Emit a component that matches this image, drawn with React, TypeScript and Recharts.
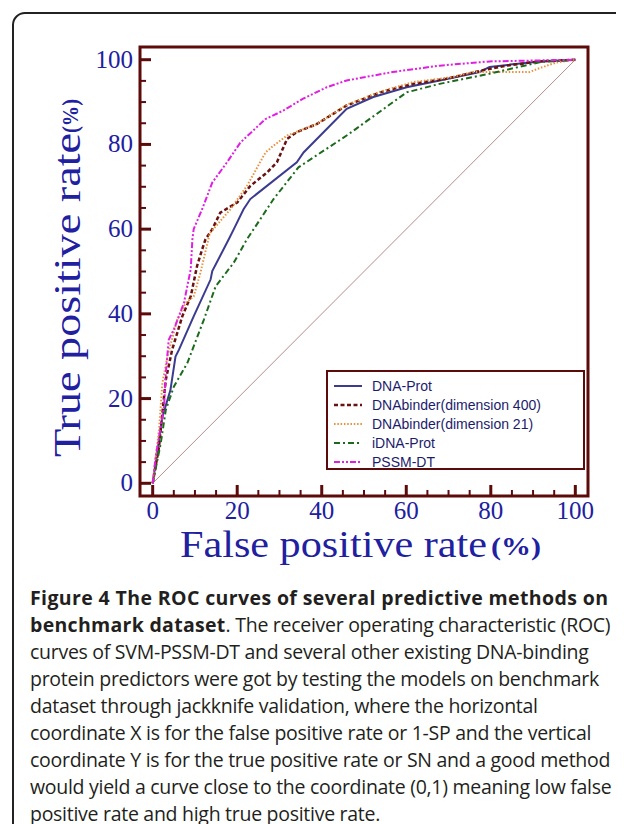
import { LineChart, Line, XAxis, YAxis, ReferenceArea, ReferenceLine, Label } from 'recharts'

// ROC points (FPR %, TPR %)
const dnaProtFpr = [0, 2.3, 4.2, 5.4, 6.2, 9.7, 13.7, 14.1, 18, 19.2, 21.5, 23.1, 34.1, 35.7, 45.9, 52.2, 60.1, 67.9, 77.4, 79.7, 91.5, 100]
const dnaProtTpr = [0, 15.7, 22, 29.9, 31.5, 39.4, 48.1, 50.1, 57.6, 60, 64.7, 67.1, 75.8, 78.1, 88.4, 91.2, 93.5, 95.1, 97.1, 98.3, 99.6, 100]

const binder400Fpr = [0, 1.5, 2.3, 3.1, 4.6, 7, 9, 10.5, 11.7, 12.5, 14.1, 16, 20, 23.1, 27.1, 29.4, 31.8, 34.1, 38.8, 45.9, 53.8, 61.6, 69.5, 78.1, 83.7, 91.5, 100]
const binder400Tpr = [0, 8.6, 16.6, 24.4, 31.5, 39.4, 44.1, 51.3, 55.2, 57.6, 60, 63.9, 66.3, 70.2, 73.4, 75.8, 81.3, 82.9, 84.8, 89.2, 92.3, 94.3, 95.5, 97.5, 98.6, 99.6, 100]

const binder21Fpr = [0, 1.5, 2.3, 3.5, 5.8, 7.8, 9.7, 11.3, 13.5, 18.4, 22.3, 26.7, 28.6, 31.8, 38.8, 46, 54, 61.6, 71, 75.7, 83.7, 89.2, 91.5, 95.4, 100]
const binder21Tpr = [0, 12.6, 23.7, 30, 38.6, 42.6, 44.1, 49.7, 59, 64.7, 70.2, 78.1, 79.7, 82.1, 84.8, 89.4, 92.5, 94.7, 95.9, 97.1, 97.1, 97.1, 98, 99.3, 100]

const iDnaProtFpr = [0, 1.9, 3.1, 5, 8.2, 12.1, 14.9, 19.2, 22.3, 23.9, 28.6, 34.5, 45.9, 60.1, 67.9, 79.7, 91.5, 100]
const iDnaProtTpr = [0, 9.4, 17.3, 22.8, 28.4, 38.6, 46.5, 52.1, 57.6, 60, 67.1, 74.6, 82.1, 92.3, 94.3, 96.7, 99.4, 100]

const pssmDtFpr = [0, 0.7, 2.7, 3.1, 3.8, 5, 7.4, 9, 9.4, 9.7, 11.7, 14.1, 17.6, 20.8, 26.7, 30.9, 35.6, 41.2, 45.9, 56.8, 67.9, 79.7, 100]
const pssmDtTpr = [0, 6.2, 18.1, 26, 33.9, 36.3, 42.6, 50.5, 57.6, 60, 64.7, 71, 75.8, 80.5, 86, 88, 90.8, 93.5, 95.1, 97.1, 98.6, 99.6, 100]

const tickValues = [0, 5, 10, 15, 20, 25, 30, 35, 40, 45, 50, 55, 60, 65, 70, 75, 80, 85, 90, 95, 100]

const toPoints = (xs: number[], ys: number[]) => xs.map((x, i) => ({ x, y: ys[i] }))

const series = [
  { name: 'DNA-Prot', data: toPoints(dnaProtFpr, dnaProtTpr), color: '#3b3b8f', dash: undefined, width: 2 },
  { name: 'DNAbinder(dimension 400)', data: toPoints(binder400Fpr, binder400Tpr), color: '#6a1212', dash: '4 2.5', width: 2.5 },
  { name: 'DNAbinder(dimension 21)', data: toPoints(binder21Fpr, binder21Tpr), color: '#e8903a', dash: '1.5 1.8', width: 2 },
  { name: 'iDNA-Prot', data: toPoints(iDnaProtFpr, iDnaProtTpr), color: '#1c6a1c', dash: '6 3 2 3', width: 2 },
  { name: 'PSSM-DT', data: toPoints(pssmDtFpr, pssmDtTpr), color: '#e020e0', dash: '6 2 2 2 2 2', width: 2 },
]

const axisColor = '#5c0a0a'
const labelColor = '#2020a0'
const serif = '"Liberation Serif", "Times New Roman", serif'

const XTick = (props: any) => {
  const { x, y, payload } = props
  const major = payload.value % 20 === 0
  return (
    <g>
      <line x1={x} x2={x} y1={y} y2={y - (major ? 11 : 6)} stroke={axisColor} strokeWidth={major ? 3 : 2} />
      {major && (
        <text x={x} y={y + 23} textAnchor="middle" fontFamily={serif} fontSize={25} fill={labelColor}>
          {payload.value}
        </text>
      )}
    </g>
  )
}

const YTick = (props: any) => {
  const { x, y, payload } = props
  const major = payload.value % 20 === 0
  return (
    <g>
      <line x1={x} x2={x + (major ? 11 : 6)} y1={y} y2={y} stroke={axisColor} strokeWidth={major ? 3 : 2} />
      {major && (
        <text x={x - 7} y={y + 8} textAnchor="end" fontFamily={serif} fontSize={25} fill={labelColor}>
          {payload.value}
        </text>
      )}
    </g>
  )
}

const LegendBox = () => (
  <div
    style={{
      position: 'absolute',
      left: 318,
      top: 362,
      width: 259,
      height: 100,
      border: `2px solid ${axisColor}`,
      background: '#fff',
      padding: '4px 0',
      fontFamily: '"Liberation Sans", Arial, sans-serif',
      fontSize: 14,
      color: '#1c1c6c',
      boxSizing: 'border-box',
    }}
  >
    {series.map((s) => (
      <div key={s.name} style={{ display: 'flex', alignItems: 'center', height: 19 }}>
        <svg width={40} height={10} style={{ marginLeft: 4 }}>
          <line x1={2} x2={30} y1={5} y2={5} stroke={s.color} strokeWidth={s.width} strokeDasharray={s.dash} />
        </svg>
        <span>{s.name}</span>
      </div>
    ))}
  </div>
)

const App = () => {
  return (
    <div style={{ position: 'relative', width: 616, height: 816, overflow: 'hidden' }}>
      <div
        style={{
          position: 'absolute',
          left: 4,
          top: 4,
          width: 700,
          height: 900,
          border: '2px solid #222',
          borderTopLeftRadius: 13,
          boxSizing: 'border-box',
        }}
      />
      <div style={{ position: 'absolute', left: 0, top: 0 }}>
        <LineChart width={600} height={570} margin={{ top: 39, right: 20, left: 0, bottom: 0 }}>
          <XAxis
            type="number"
            dataKey="x"
            domain={[-3, 103]}
            allowDataOverflow
            ticks={tickValues}
            interval={0}
            axisLine={false}
            tickLine={false}
            tickSize={0}
            tickMargin={0}
            tick={<XTick />}
            height={82}
          >
            <Label
              content={(p: any) => {
                const vb = p.viewBox
                const by = vb.y + 61
                return (
                  <g fontFamily={serif} fill={labelColor}>
                    <text x={172} y={by} fontSize={38} textLength={307} lengthAdjust="spacingAndGlyphs">
                      False positive rate
                    </text>
                    <text x={483} y={by - 2} fontSize={25} fontWeight="bold" textLength={50} lengthAdjust="spacingAndGlyphs">
                      (%)
                    </text>
                  </g>
                )
              }}
            />
          </XAxis>
          <YAxis
            type="number"
            dataKey="y"
            domain={[-3, 103]}
            allowDataOverflow
            ticks={tickValues}
            interval={0}
            axisLine={false}
            tickLine={false}
            tickSize={0}
            tickMargin={0}
            tick={<YTick />}
            width={132}
          >
            <Label
              content={() => (
                <g fontFamily={serif} fill={labelColor} transform="rotate(-90, 72, 449)">
                  <text x={72} y={449} fontSize={38} textLength={324} lengthAdjust="spacingAndGlyphs">
                    True positive rate
                  </text>
                  <text x={72 + 324} y={447} fontSize={24} fontWeight="bold" textLength={34} lengthAdjust="spacingAndGlyphs">
                    (%)
                  </text>
                </g>
              )}
            />
          </YAxis>
          <ReferenceArea
            x1={-3}
            x2={103}
            y1={-3}
            y2={103}
            fill="#fff"
            fillOpacity={0}
            stroke={axisColor}
            strokeWidth={3}
            ifOverflow="visible"
          />
          <ReferenceLine
            segment={[
              { x: 0, y: 0 },
              { x: 100, y: 100 },
            ]}
            stroke="#b88c8c"
            strokeWidth={1}
          />
          {series.map((s) => (
            <Line
              key={s.name}
              data={s.data}
              dataKey="y"
              name={s.name}
              type="linear"
              stroke={s.color}
              strokeWidth={s.width}
              strokeDasharray={s.dash}
              dot={false}
              activeDot={false}
              isAnimationActive={false}
            />
          ))}
        </LineChart>
        <LegendBox />
      </div>
      <div
        style={{
          position: 'absolute',
          left: 22,
          top: 576,
          fontFamily: '"Open Sans", sans-serif',
          fontSize: 19.5,
          lineHeight: '27px',
          color: '#231f20',
          whiteSpace: 'nowrap',
          letterSpacing: -0.28,
        }}
      >
        <b style={{ letterSpacing: 0.38 }}>Figure 4 The ROC curves of several predictive methods on</b>
        <br />
        <b style={{ letterSpacing: 0.3 }}>benchmark dataset</b>. The receiver operating characteristic (ROC)
        <br />
        curves of SVM-PSSM-DT and several other existing DNA-binding
        <br />
        protein predictors were got by testing the models on benchmark
        <br />
        dataset through jackknife validation, where the horizontal
        <br />
        coordinate X is for the false positive rate or 1-SP and the vertical
        <br />
        coordinate Y is for the true positive rate or SN and a good method
        <br />
        would yield a curve close to the coordinate (0,1) meaning low false
        <br />
        positive rate and high true positive rate.
      </div>
    </div>
  )
}

export default App
